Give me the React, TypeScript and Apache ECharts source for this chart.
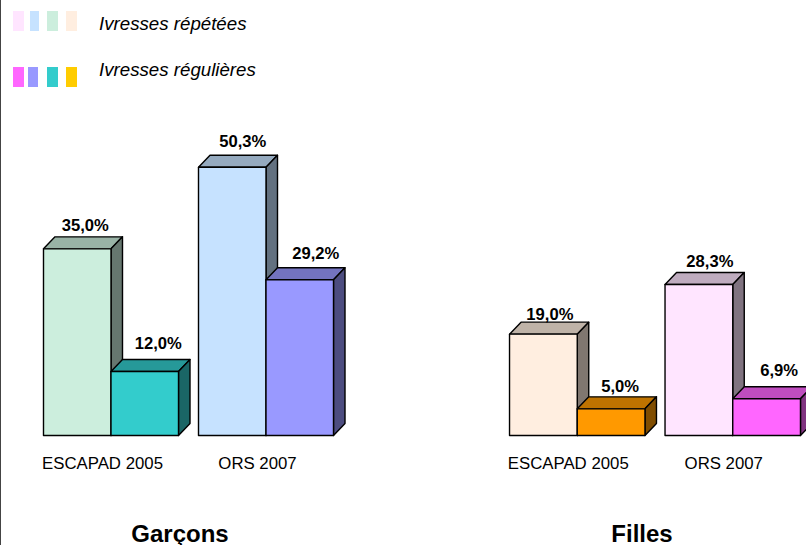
import React, { useEffect, useRef } from "react";
import * as echarts from "echarts";

const categories = ["ESCAPAD 2005", "ORS 2007"];
const legendNames = ["Ivresses répétées", "Ivresses régulières"];
const groupTitles = ["Garçons", "Filles"];

const garconsRepetees = [35.0, 50.3];
const garconsRegulieres = [12.0, 29.2];
const fillesRepetees = [19.0, 28.3];
const fillesRegulieres = [5.0, 6.9];

const colGarconsRepetees = ["#CCEEDD", "#C6E2FF"];
const colGarconsRegulieres = ["#33CCCC", "#9999FF"];
const colFillesRepetees = ["#FFEEE0", "#FFE5FF"];
const colFillesRegulieres = ["#FF9900", "#FF66FF"];

const legendRepetees = ["#FFE5FF", "#C6E2FF", "#CCEEDD", "#FFEEE0"];
const legendRegulieres = ["#FF66FF", "#9999FF", "#33CCCC", "#FFCC00"];

const labelOffGarconsRepetees = [[8, -23], [10.5, -25.5]];
const labelOffGarconsRegulieres = [[13.5, -28], [16, -26]];
const labelOffFillesRepetees = [[6.5, -20], [11, -23]];
const labelOffFillesRegulieres = [[9, -22.5], [12.5, -28]];

const FONT = '"Liberation Sans", Arial, sans-serif';
const DEPTH_X = 11.5;
const DEPTH_Y = 12;

function shade(hex: string, k: number) {
  const n = parseInt(hex.slice(1), 16);
  const c = [(n >> 16) & 255, (n >> 8) & 255, n & 255].map((v) => Math.round(v * k));
  return `rgb(${c[0]},${c[1]},${c[2]})`;
}

function barSeries(
  gridIndex: number,
  values: number[],
  colors: string[],
  side: number,
  offsets: number[][],
) {
  return {
    type: "custom",
    xAxisIndex: gridIndex,
    yAxisIndex: gridIndex,
    clip: false,
    silent: true,
    data: values.map((v, i) => [i, v]),
    renderItem(_p: any, api: any) {
      const i = api.value(0);
      const v = api.value(1);
      const top = api.coord([i, v]);
      const base = api.coord([i, 0]);
      const w = api.size([1, 0])[0] * 0.4355;
      const x0 = top[0] + (side < 0 ? -w : 0);
      const x1 = x0 + w;
      const y0 = top[1];
      const y1 = base[1];
      const color = colors[i];
      const stroke = { stroke: "#000", lineWidth: 1.4, lineJoin: "round" };
      return {
        type: "group",
        children: [
          {
            type: "polygon",
            shape: { points: [[x0, y0], [x0 + DEPTH_X, y0 - DEPTH_Y], [x1 + DEPTH_X, y0 - DEPTH_Y], [x1, y0]] },
            style: { fill: shade(color, 0.75), ...stroke },
          },
          {
            type: "polygon",
            shape: { points: [[x1, y0], [x1 + DEPTH_X, y0 - DEPTH_Y], [x1 + DEPTH_X, y1 - DEPTH_Y], [x1, y1]] },
            style: { fill: shade(color, 0.5), ...stroke },
          },
          {
            type: "polygon",
            shape: { points: [[x0, y0], [x1, y0], [x1, y1], [x0, y1]] },
            style: { fill: color, ...stroke },
          },
          {
            type: "text",
            x: (x0 + x1) / 2 + offsets[i][0],
            y: y0 + offsets[i][1],
            style: {
              text: v.toFixed(1).replace(".", ",") + "%",
              font: `bold 16.6px ${FONT}`,
              fill: "#000",
              align: "center",
              verticalAlign: "middle",
            },
          },
        ],
      };
    },
  };
}

function swatches(colors: string[], xs: number[][], y: number) {
  return colors.map((c, i) => ({
    type: "rect",
    silent: true,
    shape: { x: xs[i][0], y, width: xs[i][1], height: 20 },
    style: { fill: c },
  }));
}

const xAxisFor = (gridIndex: number, pad: number) => ({
  type: "category",
  gridIndex,
  data: categories,
  axisLine: { show: false },
  axisTick: { show: false },
  axisLabel: {
    interval: 0,
    margin: 19,
    color: "#000",
    fontFamily: FONT,
    fontSize: 16.8,
    padding: [0, pad, 0, 0],
  },
});

const yAxisFor = (gridIndex: number) => ({
  type: "value",
  gridIndex,
  min: 0,
  max: 60,
  show: false,
  splitLine: { show: false },
});

export default function App() {
  const ref = useRef<HTMLDivElement>(null);
  useEffect(() => {
    const chart = echarts.init(ref.current!, undefined, { renderer: "svg" });
    chart.setOption({
      animation: false,
      backgroundColor: "#fff",
      title: [
        {
          text: groupTitles[0],
          left: 180,
          top: 521,
          textAlign: "center",
          textStyle: { fontFamily: FONT, fontSize: 24, fontWeight: "bold", color: "#000" },
          padding: 0,
        },
        {
          text: groupTitles[1],
          left: 642,
          top: 521,
          textAlign: "center",
          textStyle: { fontFamily: FONT, fontSize: 24, fontWeight: "bold", color: "#000" },
          padding: 0,
        },
      ],
      grid: [
        { left: 33.5, top: 115.5, width: 310, height: 320 },
        { left: 499.5, top: 115.5, width: 311, height: 320 },
      ],
      xAxis: [xAxisFor(0, 17), xAxisFor(1, 18)],
      yAxis: [yAxisFor(0), yAxisFor(1)],
      series: [
        barSeries(0, garconsRepetees, colGarconsRepetees, -1, labelOffGarconsRepetees),
        barSeries(0, garconsRegulieres, colGarconsRegulieres, 1, labelOffGarconsRegulieres),
        barSeries(1, fillesRepetees, colFillesRepetees, -1, labelOffFillesRepetees),
        barSeries(1, fillesRegulieres, colFillesRegulieres, 1, labelOffFillesRegulieres),
      ],
      graphic: [
        { type: "rect", silent: true, shape: { x: 0, y: 0, width: 1, height: 545 }, style: { fill: "#444" } },
        ...swatches(legendRepetees, [[13, 11], [30, 9], [47, 11], [66, 11]], 11),
        ...swatches(legendRegulieres, [[13, 11], [28, 10], [47, 11], [66, 11]], 67),
        {
          type: "text",
          silent: true,
          x: 99,
          y: 23,
          style: { text: legendNames[0], font: `italic 18.7px ${FONT}`, fill: "#000", verticalAlign: "middle" },
        },
        {
          type: "text",
          silent: true,
          x: 99,
          y: 69,
          style: { text: legendNames[1], font: `italic 18.7px ${FONT}`, fill: "#000", verticalAlign: "middle" },
        },
      ],
    });
    return () => chart.dispose();
  }, []);
  return (
    <div style={{ position: "absolute", left: 0, top: 0, width: 806, height: 545, overflow: "hidden" }}>
      <div ref={ref} style={{ width: 830, height: 545 }} />
    </div>
  );
}
